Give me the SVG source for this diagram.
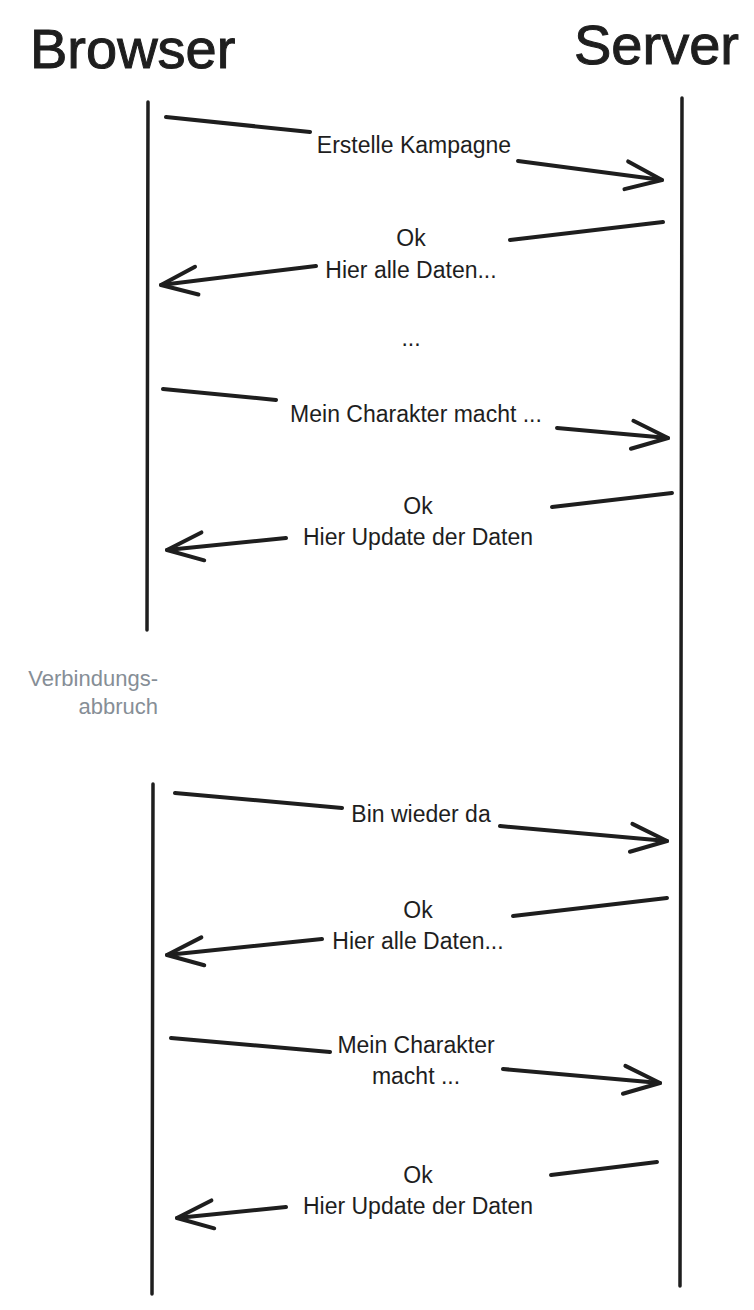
<svg xmlns="http://www.w3.org/2000/svg" width="754" height="1310" viewBox="0 0 754 1310">
<style>
.bg{fill:#ffffff}
.title{font-family:"Liberation Sans",Arial,sans-serif;font-size:56px;fill:#1e1e1e;stroke:#1e1e1e;stroke-width:1}
.msg{font-family:"Liberation Sans",Arial,sans-serif;font-size:23px;fill:#1e1e1e;text-anchor:middle}
.note{font-family:"Liberation Sans",Arial,sans-serif;font-size:22px;fill:#868e96;text-anchor:end}
.life{stroke:#1e1e1e;stroke-width:3.5;fill:none;stroke-linecap:round}
.arrow{stroke:#1e1e1e;stroke-width:4;fill:none;stroke-linecap:round;stroke-linejoin:round}
</style>
<defs>
<marker id="head" viewBox="-2 -2 44 34" markerUnits="userSpaceOnUse" markerWidth="44" markerHeight="34" refX="36" refY="14" orient="auto" overflow="visible">
<path d="M0,0 L36,14 L0,28" fill="none" stroke="#1e1e1e" stroke-width="4" stroke-linecap="round" stroke-linejoin="round"/>
</marker>
</defs>
<rect class="bg" x="0" y="0" width="754" height="1310"/>
<g id="browser">
<text class="title" x="30" y="68">Browser</text>
<line class="life" x1="148" y1="102" x2="147" y2="630"/>
<line class="life" x1="153" y1="784" x2="152" y2="1294"/>
</g>
<g id="server">
<text class="title" x="574" y="64">Server</text>
<line class="life" x1="682" y1="98" x2="680" y2="1286"/>
</g>
<g id="verbindungsabbruch">
<text class="note" x="158" y="686">Verbindungs-</text>
<text class="note" x="158" y="714">abbruch</text>
</g>
<g id="connectors">
<g id="m1">
<line class="arrow" x1="166" y1="117" x2="310" y2="132"/>
<text class="msg" x="414" y="153">Erstelle Kampagne</text>
<line class="arrow" x1="518" y1="161" x2="662" y2="180" marker-end="url(#head)"/>
</g>
<g id="m2">
<line class="arrow" x1="663" y1="222" x2="510" y2="240"/>
<text class="msg" x="411" y="246">Ok</text>
<text class="msg" x="411" y="278">Hier alle Daten...</text>
<line class="arrow" x1="316" y1="266" x2="161" y2="285" marker-end="url(#head)"/>
</g>
<text class="msg" x="411" y="346">...</text>
<g id="m3">
<line class="arrow" x1="163" y1="389" x2="276" y2="400"/>
<text class="msg" x="416" y="422">Mein Charakter macht ...</text>
<line class="arrow" x1="557" y1="428" x2="668" y2="438" marker-end="url(#head)"/>
</g>
<g id="m4">
<line class="arrow" x1="672" y1="493" x2="552" y2="507"/>
<text class="msg" x="418" y="514">Ok</text>
<text class="msg" x="418" y="545">Hier Update der Daten</text>
<line class="arrow" x1="286" y1="538" x2="167" y2="550" marker-end="url(#head)"/>
</g>
<g id="m5">
<line class="arrow" x1="175" y1="793" x2="342" y2="808"/>
<text class="msg" x="421" y="822">Bin wieder da</text>
<line class="arrow" x1="500" y1="826" x2="667" y2="841" marker-end="url(#head)"/>
</g>
<g id="m6">
<line class="arrow" x1="667" y1="898" x2="513" y2="916"/>
<text class="msg" x="418" y="918">Ok</text>
<text class="msg" x="418" y="949">Hier alle Daten...</text>
<line class="arrow" x1="322" y1="939" x2="167" y2="955" marker-end="url(#head)"/>
</g>
<g id="m7">
<line class="arrow" x1="171" y1="1038" x2="330" y2="1052"/>
<text class="msg" x="416" y="1053">Mein Charakter</text>
<text class="msg" x="416" y="1084">macht ...</text>
<line class="arrow" x1="503" y1="1069" x2="660" y2="1083" marker-end="url(#head)"/>
</g>
<g id="m8">
<line class="arrow" x1="657" y1="1162" x2="551" y2="1175"/>
<text class="msg" x="418" y="1183">Ok</text>
<text class="msg" x="418" y="1214">Hier Update der Daten</text>
<line class="arrow" x1="286" y1="1207" x2="177" y2="1218" marker-end="url(#head)"/>
</g>
</g>
</svg>
